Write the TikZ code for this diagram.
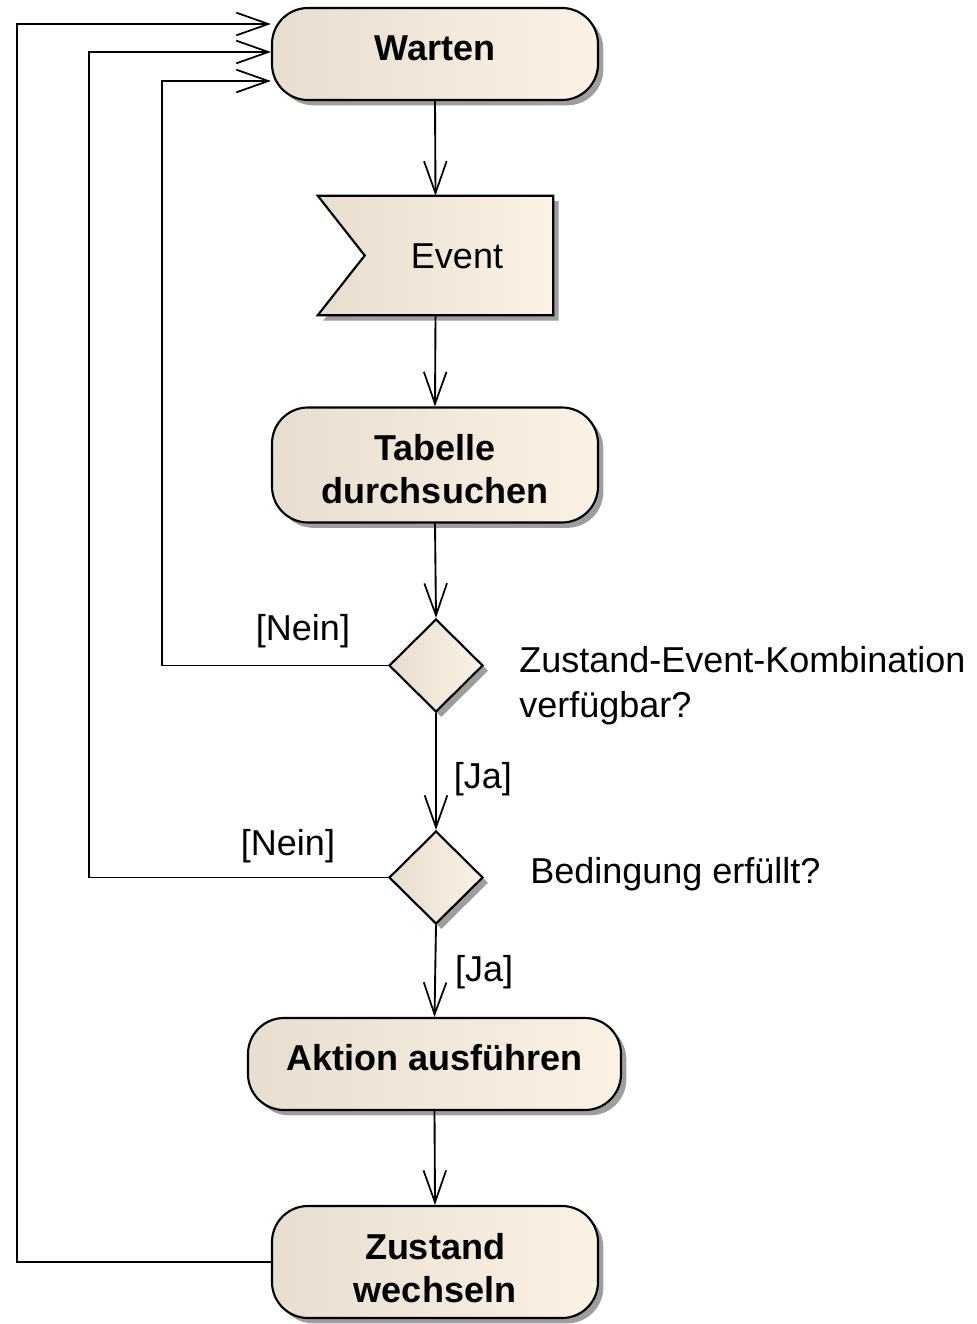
\documentclass[tikz,border=0pt]{standalone}
\usepackage{fontspec}
\setmainfont{Liberation Sans}
\usetikzlibrary{arrows.meta,shapes.geometric,shadows,calc}
\newcommand\pxu{0.75pt}
\definecolor{boxleft}{RGB}{232,222,208}
\definecolor{boxright}{RGB}{251,241,228}
\tikzset{
  shadowed/.style={drop shadow={shadow xshift=4pt,shadow yshift=-4pt,fill=black!38,opacity=1}},
  boxfill/.style={left color=boxleft,right color=boxright,draw=black,line width=1.6pt,shadowed},
  action/.style={boxfill,rectangle,rounded corners=36*\pxu,inner sep=0pt},
  boxtext/.style={font=\bfseries\fontsize{27}{32.25}\selectfont,align=center,inner sep=0pt},
  decision/.style={boxfill,diamond,inner sep=0pt,minimum width=94*\pxu,minimum height=93*\pxu},
  eventframe/.style={rectangle,inner sep=0pt,minimum width=235*\pxu,minimum height=119*\pxu},
  lbl/.style={font=\fontsize{27}{33.75}\selectfont,inner sep=0pt},
  flow/.style={line width=1.4pt,-{Straight Barb[length=24pt,width=17pt,line width=1.3pt]}},
}
\begin{document}
\begin{tikzpicture}[x=0.75pt,y=-0.75pt]
\useasboundingbox (0,0) rectangle (977,1324);

% activities
\node[action,minimum width=326*\pxu,minimum height=92*\pxu,
  label={[boxtext,yshift=6*\pxu]center:Warten}] (warten) at (435,54) {};
\node[eventframe] (event) at (435.5,255.5) {};
\node[action,minimum width=326*\pxu,minimum height=115*\pxu,
  label={[boxtext,yshift=-4*\pxu]center:Tabelle\\durchsuchen}] (tabelle) at (435,465) {};
\node[decision] (d1) at (436,665.5) {};
\node[decision] (d2) at (436,877.5) {};
\node[action,minimum width=373*\pxu,minimum height=92*\pxu,
  label={[boxtext,yshift=6*\pxu]center:Aktion ausführen}] (aktion) at (434.5,1064) {};
\node[action,minimum width=326*\pxu,minimum height=112*\pxu,
  label={[boxtext,yshift=-6*\pxu]center:Zustand\\wechseln}] (zustand) at (435,1262) {};

% signal receipt shape with its notch on the left
\path[boxfill] (event.north west) -- (event.north east) -- (event.south east)
  -- (event.south west) -- ($(event.west)+(47,0)$) -- cycle;
\node[lbl] (eventtext) at (457,256) {Event};

% guard and condition texts
\node[lbl,anchor=west,align=left] (q1) at (519,686) {Zustand-Event-Kombination\\verfügbar?};
\node[lbl,anchor=west] (q2) at (530,874) {Bedingung erfüllt?};

% main flow
\draw[flow] (warten.south) -- (event.north);
\draw[flow] (event.south) -- (tabelle.north);
\draw[flow] (tabelle.south) -- (d1.north);
\draw[flow] (d1.south) -- node[lbl,right=17*\pxu,pos=0.57] (ja1) {[Ja]} (d2.north);
\draw[flow] (d2.south) -- node[lbl,right=19*\pxu,pos=0.51] (ja2) {[Ja]} (aktion.north);
\draw[flow] (aktion.south) -- (zustand.north);

% return paths to Warten
\draw[flow] (zustand.west) -- ++(-254,0) |- ([yshift=30*\pxu]warten.west);
\draw[flow] (d2.west) -- ++(-299,0) |- ([yshift=2*\pxu]warten.west);
\draw[flow] (d1.west) -- ++(-226,0) |- ([yshift=-27*\pxu]warten.west);

\node[lbl] (nein1) at (303,631) {[Nein]};
\node[lbl] (nein2) at (288,846) {[Nein]};
\end{tikzpicture}
\end{document}
